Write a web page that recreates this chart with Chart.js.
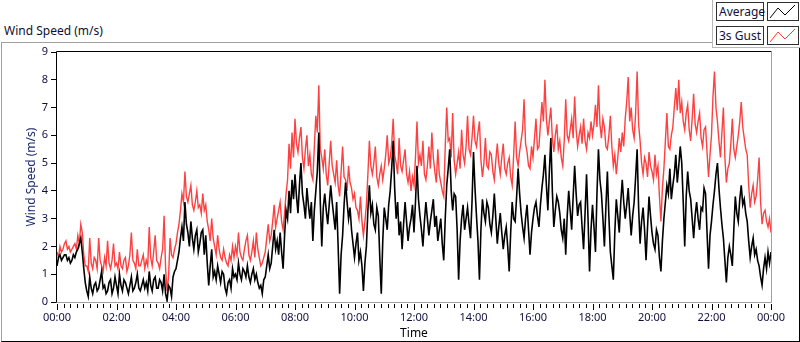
<!DOCTYPE html>
<html>
<head>
<meta charset="utf-8">
<script src="https://cdn.jsdelivr.net/npm/chart.js@4.4.0/dist/chart.umd.min.js"></script>
<style>
body{margin:0;background:#fff;font-family:"Noto Sans",sans-serif;}
#wrap{position:relative;width:800px;height:342px;overflow:hidden;}
#frame{position:absolute;left:1px;top:42px;width:797px;height:298px;border-top:1px solid #a0a0a0;border-left:1px solid #a0a0a0;border-right:1px solid #000;border-bottom:1px solid #000;}
#head{position:absolute;left:4px;top:22px;font-size:12px;color:#101030;}
#legend{position:absolute;left:712px;top:0;width:87px;height:47px;background:#fff;border-left:1px solid #b8b8b8;border-bottom:1px solid #b8b8b8;z-index:2;}
.lbl{position:absolute;left:3px;width:44px;height:17px;border:1px solid #303030;font-size:12px;line-height:17px;padding-left:2px;color:#101040;}
.ico{position:absolute;left:54px;width:30px;height:17px;border:1px solid #303030;}
canvas{position:absolute;left:0;top:0;z-index:1;}
</style>
</head>
<body>
<div id="wrap">
  <div id="frame"></div>
  <div id="head">Wind Speed (m/s)</div>
  <div id="legend">
    <div class="lbl" style="top:2px">Average</div>
    <div class="ico" style="top:2px"><svg width="30" height="17"><polyline points="2,15 10,5 17,12 27,2" fill="none" stroke="#000" stroke-width="1"/></svg></div>
    <div class="lbl" style="top:26px">3s Gust</div>
    <div class="ico" style="top:26px"><svg width="30" height="17"><polyline points="2,15 10,5 17,12 27,2" fill="none" stroke="#ff3c3c" stroke-width="1"/></svg></div>
  </div>
  <canvas id="chart" width="800" height="342"></canvas>
</div>
<script>
// ---------- data (one reading every 3 min, 00:00 -> 24:00), one row per hour ----------
const sampleMinutes = 3;

const gustSpeed = [
  1.8,1.6,2.0,1.8,1.9,2.1,2.2,1.9,2.0,1.8,1.9,2.0,2.1,1.9,2.4,2.1,2.8,2.5,1.7,1.3,
  1.3,1.1,2.3,1.4,1.2,1.6,1.5,1.2,2.3,1.5,1.3,1.1,1.6,1.3,2.2,1.4,1.2,1.5,2.1,1.3,
  1.4,1.2,1.8,1.3,1.2,1.5,1.6,1.1,1.3,1.7,2.5,1.5,1.4,1.2,1.9,1.3,1.3,1.5,1.7,1.2,
  1.5,1.3,2.7,1.6,1.3,1.8,2.4,1.5,1.4,1.2,1.6,1.9,3.1,1.2,0.4,0.9,2.3,1.7,1.6,1.9,
  2.1,2.5,2.8,3.3,3.9,3.6,4.7,3.8,3.6,3.9,4.2,3.5,3.3,3.6,4.0,3.4,3.5,3.2,3.9,3.3,
  3.5,2.9,2.6,2.2,3.0,2.3,2.0,1.7,2.4,1.9,1.6,1.5,1.9,1.6,1.4,1.3,1.7,1.5,2.0,1.6,
  2.0,1.7,2.5,1.8,1.6,1.5,1.9,2.2,2.4,1.7,1.5,1.8,2.2,1.6,2.5,1.9,1.6,1.3,1.4,1.6,
  1.8,2.3,2.8,2.2,2.4,2.9,3.5,2.7,3.0,3.3,3.6,2.9,2.6,3.2,3.9,4.4,5.7,4.8,6.1,5.2,
  6.6,5.7,5.4,5.9,6.3,5.2,4.8,5.5,6.0,4.9,5.3,4.6,4.4,5.6,6.7,6.1,7.8,5.5,5.2,4.8,
  5.5,4.6,4.2,5.0,5.8,4.9,4.6,4.3,5.1,4.2,3.8,4.7,5.6,4.5,4.4,4.0,4.9,4.3,4.1,3.7,
  3.9,3.4,3.3,3.0,3.8,2.9,2.4,2.9,3.5,4.6,5.8,4.9,4.6,5.0,5.6,4.5,4.2,4.6,4.9,4.4,
  4.8,5.3,6.0,5.0,5.2,5.7,6.6,5.3,5.0,4.6,5.9,4.9,4.7,5.1,5.5,4.6,4.3,4.7,4.0,4.5,
  4.2,5.2,6.5,5.0,5.3,4.9,5.8,4.6,4.4,4.9,5.6,4.8,6.1,5.2,4.7,4.3,5.5,4.6,4.3,4.0,
  3.8,5.6,7.0,5.8,5.9,5.2,6.8,5.1,4.6,5.0,5.4,4.8,6.2,5.3,5.0,5.6,6.7,5.5,5.3,5.9,
  6.7,5.8,5.6,6.1,6.5,5.1,4.5,5.0,5.9,4.9,4.8,5.4,5.3,4.7,4.4,5.1,5.7,5.0,4.6,5.2,
  5.7,4.8,4.6,5.0,5.2,4.5,4.2,5.3,6.5,5.2,4.9,5.4,5.8,6.2,7.3,5.7,5.4,4.9,4.8,5.6,
  5.2,5.9,6.6,5.5,5.6,6.4,7.2,6.5,8.0,6.6,6.0,6.5,7.0,5.9,5.4,6.0,6.4,5.5,5.8,5.2,
  4.9,5.8,7.3,6.0,5.8,6.2,6.6,5.9,7.4,6.2,5.6,6.0,6.3,5.7,6.6,5.8,5.5,6.1,5.9,6.5,
  6.0,6.4,7.1,6.3,7.8,6.4,5.9,6.6,6.3,5.6,5.5,6.0,6.7,5.6,4.9,5.3,4.6,5.2,5.9,5.4,
  6.1,5.6,6.6,7.2,8.1,6.5,7.0,6.2,5.9,6.8,8.3,6.4,5.8,5.0,4.6,5.2,5.0,4.5,5.4,4.9,
  4.7,4.4,5.3,4.6,4.9,3.8,2.9,4.1,4.8,5.8,6.8,5.6,5.5,6.0,6.3,7.0,7.7,6.9,8.0,6.8,
  7.2,6.5,6.2,6.8,7.1,6.2,5.8,6.6,7.5,6.4,6.1,6.5,6.8,5.9,5.6,6.2,6.3,5.4,4.5,5.3,
  6.0,7.4,8.3,7.0,6.5,5.8,5.2,6.1,7.0,5.2,4.3,4.8,5.0,5.7,6.6,5.5,5.2,5.6,6.0,6.5,
  7.2,6.3,5.9,5.5,5.3,4.2,3.4,3.9,4.2,3.6,3.8,4.4,5.2,3.6,2.8,3.2,3.3,2.9,2.7,3.0,
  2.5
];

const avgSpeed = [
  1.3,1.6,1.7,1.5,1.6,1.7,1.7,1.5,1.6,1.4,1.5,1.7,1.6,1.8,1.9,2.1,2.3,1.8,1.2,0.7,
  0.4,0.2,0.9,0.5,0.3,0.6,0.7,0.4,0.5,0.8,1.1,0.5,0.6,0.3,0.4,0.7,0.8,0.3,0.5,0.9,
  0.6,0.3,1.0,0.6,0.4,0.8,0.7,0.5,0.3,0.6,0.9,0.4,0.5,0.7,1.0,0.5,0.4,0.6,0.8,0.5,
  0.7,0.4,1.1,0.6,0.4,0.8,0.9,0.5,0.5,0.8,0.7,0.4,1.0,0.3,0.05,0.6,0.5,0.2,0.9,1.1,
  1.2,1.5,1.8,2.3,2.7,2.2,3.6,2.8,2.5,2.0,2.9,2.3,1.9,2.4,2.6,1.8,2.1,2.5,2.6,1.7,
  2.4,1.4,0.6,1.3,1.9,0.9,1.1,0.8,1.3,1.0,0.7,1.1,1.0,0.5,0.3,0.7,0.8,0.5,1.2,0.9,
  1.0,0.8,1.4,1.0,0.8,1.2,1.1,0.9,1.3,0.9,0.7,1.0,1.2,0.8,1.0,0.7,0.5,0.6,0.3,0.8,
  0.9,1.3,1.7,1.2,1.4,2.0,2.6,1.9,2.2,1.7,2.5,1.8,1.2,2.4,3.3,3.0,4.0,3.2,4.4,3.7,
  4.6,3.8,3.2,4.2,5.0,3.9,3.5,3.0,4.1,3.5,3.0,3.6,2.2,3.3,4.0,4.7,6.1,3.6,2.0,3.4,
  3.9,3.3,2.8,3.5,4.2,3.6,3.1,2.6,3.6,2.0,0.3,1.7,2.4,3.5,4.3,3.6,3.0,3.4,2.6,2.1,
  1.6,2.1,2.5,1.5,1.8,1.3,0.4,1.4,2.0,3.3,4.2,3.2,3.5,2.8,2.6,3.4,3.1,1.6,0.3,2.2,
  3.4,3.0,2.6,3.5,4.0,4.8,5.8,4.1,3.0,3.6,2.4,2.9,1.9,2.8,3.6,2.9,2.2,2.7,3.0,3.5,
  2.5,3.6,4.9,3.7,3.1,2.6,2.0,2.9,3.6,3.0,2.4,2.9,3.3,3.7,2.7,3.1,2.2,2.6,3.0,2.1,
  1.5,3.0,4.2,4.8,5.5,4.0,3.3,3.9,3.8,2.6,0.8,2.2,3.0,3.5,2.6,3.0,3.4,2.8,2.3,3.6,
  5.4,4.1,3.1,2.2,0.8,2.6,3.7,3.2,2.9,3.6,3.4,2.8,2.5,3.1,3.9,3.0,2.1,2.7,3.2,2.5,
  1.9,2.4,2.7,2.0,1.1,2.5,3.6,3.0,2.9,3.8,4.8,3.9,3.2,2.7,2.3,3.0,3.5,2.6,1.7,2.5,
  3.0,3.4,3.6,3.1,2.7,3.5,4.1,4.6,5.3,4.2,3.3,4.7,5.9,4.0,2.7,3.3,3.8,3.6,3.2,2.6,
  2.3,3.0,1.7,3.1,4.0,3.3,2.6,3.8,4.9,3.9,3.1,3.5,3.6,2.7,1.9,3.2,4.6,3.0,1.1,2.6,
  3.5,2.7,1.8,3.9,5.5,4.4,3.9,3.0,2.0,3.4,4.7,3.1,1.8,1.3,0.8,2.5,3.7,3.1,2.5,3.6,
  4.4,3.6,3.0,3.5,4.1,3.2,2.4,3.1,3.6,4.5,5.5,3.4,2.1,2.9,3.4,2.6,1.5,2.7,3.8,3.1,
  2.5,2.1,1.9,2.6,2.4,1.6,1.1,2.2,3.0,3.6,4.2,3.9,4.8,3.7,4.2,4.6,5.3,4.3,4.9,5.6,
  5.0,3.6,2.0,3.8,4.7,4.0,3.7,3.0,2.3,3.1,3.6,3.0,2.6,3.4,3.3,4.1,3.9,2.5,1.2,2.4,
  2.9,3.5,4.0,4.6,5.0,4.1,3.4,2.8,2.3,1.5,0.7,1.6,2.0,1.7,1.3,2.6,3.8,3.2,2.9,3.7,
  4.2,3.5,3.7,3.2,2.9,2.2,1.6,2.0,2.3,1.7,1.9,1.5,1.3,0.9,0.6,1.2,1.6,1.2,1.8,1.4,
  1.8
];

const timeLabels = ["00:00","02:00","04:00","06:00","08:00","10:00","12:00",
                    "14:00","16:00","18:00","20:00","22:00","00:00"];
const minorPerMajor = 9;   // 9 small divisions between labels
const yTicks = [0,1,2,3,4,5,6,7,8,9];

const tickFont = {family:"Noto Sans", size:11};
const tickColor = "#101040";

function pts(arr){
  return arr.map((v,i)=>({x:i*sampleMinutes, y:v}));
}

// plot frame + x tick marks (LabVIEW style)
const framePlugin = {
  id:"frame",
  afterDraw(chart){
    const {ctx, chartArea:a, scales} = chart;
    ctx.save();
    ctx.lineWidth = 1;
    ctx.strokeStyle = "#000";
    ctx.beginPath();
    ctx.moveTo(a.left-0.5, a.bottom+0.5);
    ctx.lineTo(a.left-0.5, a.top-0.5);
    ctx.lineTo(a.right+0.5, a.top-0.5);
    ctx.stroke();
    ctx.strokeStyle = "#a0a0a0";
    ctx.beginPath();
    ctx.moveTo(a.right+0.5, a.top-0.5);
    ctx.lineTo(a.right+0.5, a.bottom+0.5);
    ctx.lineTo(a.left-0.5, a.bottom+0.5);
    ctx.stroke();
    // x tick marks
    ctx.strokeStyle = "#000";
    const xs = scales.x;
    xs.ticks.forEach((t,i)=>{
      const px = Math.round(xs.getPixelForValue(t.value)) + 0.5;
      const len = i % minorPerMajor === 0 ? 6 : 4;
      ctx.beginPath();
      ctx.moveTo(px, a.bottom+2);
      ctx.lineTo(px, a.bottom+2+len);
      ctx.stroke();
    });
    ctx.restore();
  }
};

new Chart(document.getElementById("chart"), {
  type:"line",
  data:{
    datasets:[
      {label:"Average", data:pts(avgSpeed), borderColor:"#000", borderWidth:1.6, pointRadius:0, tension:0},
      {label:"3s Gust", data:pts(gustSpeed), borderColor:"#ff4040", borderWidth:1.4, pointRadius:0, tension:0}
    ]
  },
  options:{
    animation:false,
    responsive:false,
    layout:{padding:{top:52, right:29, left:0, bottom:0}},
    plugins:{legend:{display:false}, tooltip:{enabled:false}},
    scales:{
      x:{
        type:"linear",
        min:0, max:24*60,
        afterBuildTicks(s){
          const n = (timeLabels.length-1)*minorPerMajor;
          const t = [];
          for(let i=0;i<=n;i++) t.push({value:i*1440/n});
          s.ticks = t;
        },
        afterFit(s){ s.height = 40; },
        grid:{display:false, drawTicks:false},
        border:{display:false},
        ticks:{
          autoSkip:false, maxRotation:0, padding:9,
          font:tickFont, color:tickColor,
          callback:(v,i)=> i % minorPerMajor === 0 ? timeLabels[i/minorPerMajor] : ""
        },
        title:{display:true, text:"Time", color:"#000", font:{family:"Noto Sans", size:12}, padding:{top:0, bottom:1}}
      },
      y:{
        min:0, max:9,
        afterBuildTicks(s){ s.ticks = yTicks.map(v=>({value:v})); },
        afterFit(s){ s.width = 57; },
        grid:{drawOnChartArea:false, drawTicks:true, tickLength:6, color:"#000"},
        border:{display:false},
        ticks:{padding:3, font:tickFont, color:tickColor},
        title:{display:true, text:"Wind Speed (m/s)", color:"#1c2a70", font:{family:"Noto Sans", size:12}, padding:{top:24, bottom:0}}
      }
    }
  },
  plugins:[framePlugin]
});
</script>
</body>
</html>
